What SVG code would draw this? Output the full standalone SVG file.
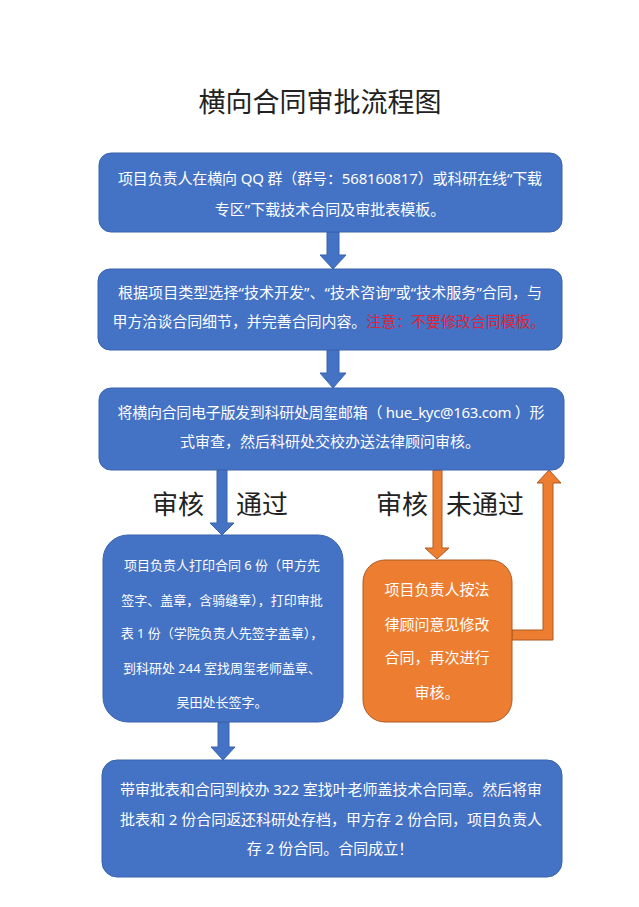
<svg xmlns="http://www.w3.org/2000/svg" width="639" height="907" viewBox="0 0 639 907">
<style>
.t{font-family:"Noto Sans","Noto Sans CJK SC",sans-serif;fill:#fff;text-anchor:middle}
.f15{font-size:15px}
.f13{font-size:13px}
.blue{fill:#4472C4;stroke:#3a63ae;stroke-width:1}
.org{fill:#ED7D31;stroke:#ae5a21;stroke-width:1}
.lbl{font-family:"Noto Sans CJK SC",sans-serif;font-size:26px;fill:#222}
.red{fill:#D9263B}
</style>
<rect width="639" height="907" fill="#fff"/>
<text x="320" y="112" style="font-family:'Noto Sans CJK SC',sans-serif;font-size:27px;fill:#222;text-anchor:middle">横向合同审批流程图</text>
<g id="connectors">
<polygon class="blue" points="327,232 339,232 339,255 346,255 333,269 320,255 327,255"/>
<polygon class="blue" points="327,350 339,350 339,373 346,373 333,388 320,373 327,373"/>
<polygon class="blue" points="217,470 227,470 227,523 234,523 222,535 210,523 217,523"/>
<polygon class="blue" points="218,722 229,722 229,747 235,747 223,760 211,747 218,747"/>
<polygon class="org" points="433,470 442,470 442,548 449,548 437,559 425,548 433,548"/>
<polygon class="org" points="512,630 543,630 543,483 537,483 549,470 561,483 553,483 553,640 512,640"/>
</g>
<g id="labels">
<text class="lbl" x="152" y="514">审核</text>
<text class="lbl" x="236" y="514">通过</text>
<text class="lbl" x="376" y="514">审核</text>
<text class="lbl" x="446" y="514">未通过</text>
</g>
<g id="n1">
<rect class="blue" x="99" y="153" width="463" height="79" rx="12"/>
<text class="t f15" x="330" y="184" textLength="424" lengthAdjust="spacing">项目负责人在横向 QQ 群（群号：568160817）或科研在线“下载</text>
<text class="t f15" x="330" y="215">专区”下载技术合同及审批表模板。</text>
</g>
<g id="n2">
<rect class="blue" x="98" y="269" width="464" height="81" rx="12"/>
<text class="t f15" x="330" y="298" textLength="424" lengthAdjust="spacing">根据项目类型选择“技术开发”、“技术咨询”或“技术服务”合同，与</text>
<text class="t f15" x="329" y="327" textLength="433" lengthAdjust="spacing">甲方洽谈合同细节，并完善合同内容。<tspan class="red">注意：不要修改合同模板。</tspan></text>
</g>
<g id="n3">
<rect class="blue" x="99" y="388" width="465" height="82" rx="12"/>
<text class="t f15" x="331" y="418" textLength="427" lengthAdjust="spacing">将横向合同电子版发到科研处周玺邮箱（ hue_kyc@163.com ）形</text>
<text class="t f15" x="330" y="447">式审查，然后科研处交校办送法律顾问审核。</text>
</g>
<g id="n4">
<rect class="blue" x="103" y="535" width="240" height="187" rx="25"/>
<text class="t f13" x="222" y="570">项目负责人打印合同 6 份（甲方先</text>
<text class="t f13" x="222" y="605">签字、盖章，含骑缝章），打印审批</text>
<text class="t f13" x="222" y="638">表 1 份（学院负责人先签字盖章），</text>
<text class="t f13" x="222" y="673">到科研处 244 室找周玺老师盖章、</text>
<text class="t f13" x="222" y="707">吴田处长签字。</text>
</g>
<g id="n5">
<rect class="org" x="363" y="560" width="149" height="162" rx="22"/>
<text class="t f15" x="437" y="595">项目负责人按法</text>
<text class="t f15" x="437" y="630">律顾问意见修改</text>
<text class="t f15" x="437" y="663">合同，再次进行</text>
<text class="t f15" x="437" y="698">审核。</text>
</g>
<g id="n6">
<rect class="blue" x="102" y="760" width="460" height="117" rx="15"/>
<text class="t f15" x="331" y="795" textLength="422" lengthAdjust="spacing">带审批表和合同到校办 322 室找叶老师盖技术合同章。然后将审</text>
<text class="t f15" x="331" y="825" textLength="422" lengthAdjust="spacing">批表和 2 份合同返还科研处存档，甲方存 2 份合同，项目负责人</text>
<text class="t f15" x="330" y="854">存 2 份合同。合同成立！</text>
</g>
</svg>
